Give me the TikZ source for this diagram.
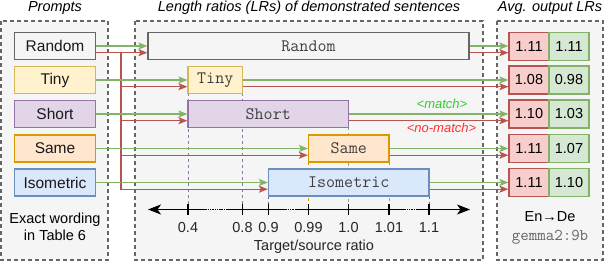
\documentclass[tikz,border=0pt]{standalone}
\usepackage{fontspec}
\setmainfont{Liberation Sans}
\usetikzlibrary{arrows.meta}
\definecolor{panelfill}{HTML}{F5F5F5}
\definecolor{greydraw}{HTML}{666666}
\definecolor{tinyfill}{HTML}{FFF2CC}
\definecolor{tinydraw}{HTML}{D6B656}
\definecolor{shortfill}{HTML}{E1D5E7}
\definecolor{shortdraw}{HTML}{9673A6}
\definecolor{samefill}{HTML}{FFE6CC}
\definecolor{samedraw}{HTML}{D79B00}
\definecolor{isofill}{HTML}{DAE8FC}
\definecolor{isodraw}{HTML}{6C8EBF}
\definecolor{redfill}{HTML}{F8CECC}
\definecolor{reddraw}{HTML}{B85450}
\definecolor{greenfill}{HTML}{D5E8D4}
\definecolor{greendraw}{HTML}{82B366}
\definecolor{matchtext}{HTML}{33CC33}
\definecolor{nomatchtext}{HTML}{FF3333}

\tikzstyle{panel} = [draw=greydraw, fill=panelfill, line width=1.2pt, dash pattern=on 4pt off 3pt]
\tikzstyle{prompt} = [draw, line width=1.2pt, minimum width=81pt, minimum height=27pt, inner sep=0pt, text=black!90, font=\fontsize{15.5}{18}\selectfont]
\tikzstyle{demo} = [draw, line width=1.2pt, minimum height=27pt, inner sep=0pt, text=black!75, font=\ttfamily\fontsize{17.5}{19}\selectfont]
\tikzstyle{cell} = [draw, line width=1.2pt, minimum width=40pt, minimum height=28pt, inner sep=0pt]
\tikzstyle{match} = [draw=greendraw, line width=1.2pt, -{Stealth[length=9pt,width=7pt,inset=2pt]}]
\tikzstyle{nomatch} = [draw=reddraw, line width=1.2pt, -{Stealth[length=9pt,width=7pt,inset=2pt]}]
\tikzstyle{guide} = [line width=1pt, dash pattern=on 3pt off 3pt]
\tikzstyle{axisline} = [line width=1.2pt, black]
\tikzstyle{axisgap} = [line width=1pt, dash pattern=on 1.5pt off 0.8pt]
\tikzstyle{ticklabel} = [text=black!85]

\begin{document}
\begin{tikzpicture}[x=1pt, y=-1pt, font=\fontsize{14.5}{17}\selectfont]
\useasboundingbox (0,0) rectangle (604,264);
\draw[panel] (1,21) rectangle (108,260);
\draw[panel] (135,21) rectangle (483,260);
\draw[panel] (497,21) rectangle (603,260);
\node[font=\itshape\fontsize{14.5}{17}\selectfont] (tPrompts) at (55,8) {Prompts};
\node[font=\itshape\fontsize{14.5}{17}\selectfont] (tLengths) at (309,8) {Length ratios (LRs) of demonstrated sentences};
\node[font=\itshape\fontsize{14.5}{17}\selectfont] (tOutputs) at (550,8) {Avg. output LRs};

\node[prompt, draw=greydraw, fill=panelfill] (pRandom) at (55,46) {Random};
\node[prompt, draw=tinydraw, fill=tinyfill] (pTiny) at (55,80) {Tiny};
\node[prompt, draw=shortdraw, fill=shortfill] (pShort) at (55,114) {Short};
\node[prompt, draw=samedraw, fill=samefill] (pSame) at (55,148.5) {Same};
\node[prompt, draw=isodraw, fill=isofill] (pIso) at (55,182.5) {Isometric};
\node[align=center] (wording) at (55,227) {Exact wording\\in Table 6};

\draw[guide, shortdraw] (188,93.5) -- (188,209.5);
\draw[guide, shortdraw] (242.5,93.5) -- (242.5,209.5);
\draw[guide, greendraw] (348.5,127.5) -- (348.5,209.5);
\draw[guide, samedraw] (308.5,162) -- (308.5,209.5);
\draw[guide, samedraw] (389,162) -- (389,209.5);
\draw[guide, greydraw] (268.5,196) -- (268.5,209.5);
\draw[guide, greydraw] (429,196) -- (429,209.5);

\node[demo, draw=greydraw, fill=panelfill, minimum width=321pt] (mRandom) at (308.5,46) {Random};
\node[demo, draw=tinydraw, fill=tinyfill, minimum width=54.5pt] (mTiny) at (215.25,80) {Tiny};
\node[demo, draw=shortdraw, fill=shortfill, minimum width=160.5pt] (mShort) at (268.25,114) {Short};
\node[demo, draw=samedraw, fill=samefill, minimum width=80.5pt] (mSame) at (348.75,148.5) {Same};
\node[demo, draw=isodraw, fill=isofill, minimum width=160.5pt] (mIso) at (348.75,182.5) {Isometric};

\node[cell, draw=reddraw, fill=redfill] (rRandom) at (529,46.5) {1.11};
\node[cell, draw=greendraw, fill=greenfill] (gRandom) at (569,46.5) {1.11};
\node[cell, draw=reddraw, fill=redfill] (rTiny) at (529,80) {1.08};
\node[cell, draw=greendraw, fill=greenfill] (gTiny) at (569,80) {0.98};
\node[cell, draw=reddraw, fill=redfill] (rShort) at (529,114) {1.10};
\node[cell, draw=greendraw, fill=greenfill] (gShort) at (569,114) {1.03};
\node[cell, draw=reddraw, fill=redfill] (rSame) at (529,148.5) {1.11};
\node[cell, draw=greendraw, fill=greenfill] (gSame) at (569,148.5) {1.07};
\node[cell, draw=reddraw, fill=redfill] (rIso) at (529,182.5) {1.11};
\node[cell, draw=greendraw, fill=greenfill] (gIso) at (569,182.5) {1.10};
\node (pair) at (550,217) {En→De};
\node[font=\ttfamily\fontsize{16.5}{18}\selectfont, text=greydraw] (model) at (550,237) {gemma2:9b};

\coordinate (trunk) at (121,0);
\draw[nomatch] ([yshift=-6.7pt]pRandom.east) -- ([yshift=-6.7pt]mRandom.west);
\draw[nomatch] ([yshift=-6.7pt]trunk |- pRandom.east) -- ([yshift=-6.7pt]trunk |- pIso.east) -- ([yshift=-6.7pt]mIso.west);
\draw[nomatch] ([yshift=-6.7pt]trunk |- pTiny.east) -- ([yshift=-6.7pt]mTiny.west);
\draw[nomatch] ([yshift=-6.7pt]trunk |- pShort.east) -- ([yshift=-6.7pt]mShort.west);
\draw[nomatch] ([yshift=-6.7pt]trunk |- pSame.east) -- ([yshift=-6.7pt]mSame.west);
\draw[match] (pRandom.east) -- (mRandom.west);
\draw[match] (pTiny.east) -- (mTiny.west);
\draw[match] (pShort.east) -- (mShort.west);
\draw[match] (pSame.east) -- (mSame.west);
\draw[match] (pIso.east) -- (mIso.west);

\draw[match] (mRandom.east) -- (mRandom.east -| rRandom.west);
\draw[match] (mTiny.east) -- (rTiny.west);
\draw[match] (mShort.east) -- (rShort.west);
\draw[match] (mSame.east) -- (rSame.west);
\draw[match] (mIso.east) -- (rIso.west);
\draw[nomatch] ([yshift=-6.7pt]mRandom.east) -- ([yshift=-6.7pt]mRandom.east -| rRandom.west);
\draw[nomatch] ([yshift=-6.7pt]mTiny.east) -- ([yshift=-6.7pt]rTiny.west);
\draw[nomatch] ([yshift=-6.7pt]mShort.east) -- ([yshift=-6.7pt]rShort.west);
\draw[nomatch] ([yshift=-6.7pt]mSame.east) -- ([yshift=-6.7pt]rSame.west);
\draw[nomatch] ([yshift=-6.7pt]mIso.east) -- ([yshift=-6.7pt]rIso.west);
\node[font=\itshape\fontsize{13}{15}\selectfont, text=matchtext] (lMatch) at (442,104) {<match>};
\node[font=\itshape\fontsize{13}{15}\selectfont, text=nomatchtext] (lNoMatch) at (441.5,128) {<no-match>};

\draw[axisline, {Stealth[length=13pt,width=10pt,inset=3.5pt]}-] (148,209.5) -- (203,209.5);
\draw[axisline] (228,209.5) -- (283,209.5);
\draw[axisline] (295,209.5) -- (402,209.5);
\draw[axisline, -{Stealth[length=13pt,width=10pt,inset=3.5pt]}] (416,209.5) -- (470,209.5);
\draw[axisgap] (203,209.5) -- (228,209.5);
\draw[axisgap] (283,209.5) -- (295,209.5);
\draw[axisgap] (402,209.5) -- (416,209.5);
\draw[axisline] (188,204) -- (188,215);
\draw[axisline] (242.5,204) -- (242.5,215);
\draw[axisline] (268.5,204) -- (268.5,215);
\draw[axisline] (308.5,204) -- (308.5,215);
\draw[axisline] (348.5,204) -- (348.5,215);
\draw[axisline] (389,204) -- (389,215);
\draw[axisline] (429,204) -- (429,215);
\node[ticklabel] (x04) at (188,228) {0.4};
\node[ticklabel] (x08) at (242.5,228) {0.8};
\node[ticklabel] (x09) at (268.5,228) {0.9};
\node[ticklabel] (x099) at (308.5,228) {0.99};
\node[ticklabel] (x10) at (348.5,228) {1.0};
\node[ticklabel] (x101) at (389,228) {1.01};
\node[ticklabel] (x11) at (429,228) {1.1};
\node[ticklabel] (xlabel) at (314,247) {Target/source ratio};
\end{tikzpicture}
\end{document}
